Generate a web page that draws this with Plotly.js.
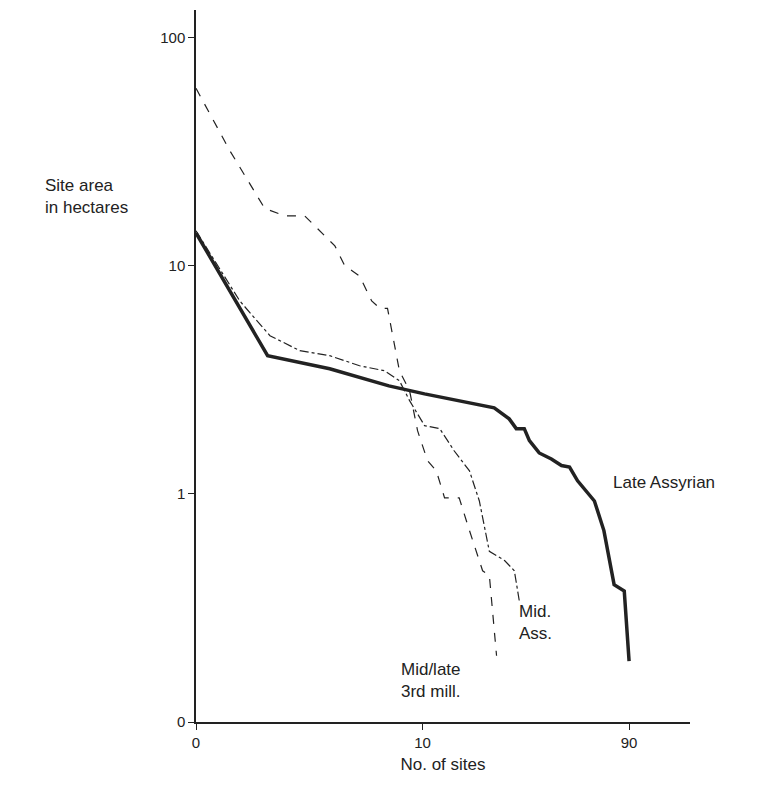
<html><head><script src="https://cdn.plot.ly/plotly-3.0.1.min.js"></script></head><body style="margin:0">
<div id="c" style="width:782px;height:799px"></div>
<script>
const lateX=[1,2.07,3.89,7.1,10.2,20.7,24.1,25.9,28.1,29.6,32.7,37,41,44.5,48.3,57.3,63.1,70,77.6,81.5];
const lateY=[13.9,4.03,3.53,2.97,2.74,2.38,2.13,1.93,1.93,1.71,1.51,1.42,1.33,1.31,1.14,0.93,0.69,0.40,0.375,0.185];
const midlateX=[1,1.41,2.01,2.47,3.02,4.1,4.53,5.27,5.96,6.47,7.0,7.9,8.76,9.5,10.5,11.5,12.5,14.5,16.1,18.4,19.7,21.2];
const midlateY=[59.8,31.9,17.8,16.5,16.5,12.2,10,9.0,7.0,6.5,6.5,3.46,2.83,1.89,1.40,1.26,0.96,0.96,0.69,0.46,0.44,0.195];
const midAssX=[1,1.56,2.12,2.87,3.89,5.27,6.8,7.9,8.76,10.2,11.9,13.8,16.1,17.8,19.7,23,25.4,26.7];
const midAssY=[14.2,7.0,4.93,4.24,4.03,3.64,3.46,3.13,2.56,1.99,1.93,1.54,1.26,0.93,0.56,0.51,0.46,0.34];
const xTickVals=[1,10,81.5], xTickText=['0','10','90'];
const yTickVals=[0.1,1,10,100], yTickText=['0','1','10','100'];
const ink='#222';
Plotly.newPlot('c',[
 {x:lateX,y:lateY,mode:'lines',line:{color:ink,width:3.5}},
 {x:midlateX,y:midlateY,mode:'lines',line:{color:ink,width:1.2,dash:'dash'}},
 {x:midAssX,y:midAssY,mode:'lines',line:{color:ink,width:1.2,dash:'dashdot'}}
],{
 width:782,height:799,showlegend:false,paper_bgcolor:'#fff',plot_bgcolor:'#fff',
 margin:{l:196,r:92,t:10,b:77},
 font:{family:'Liberation Sans, Arial',size:15,color:ink},
 xaxis:{type:'log',range:[0,2.18],showgrid:false,zeroline:false,showline:true,linecolor:ink,linewidth:1.5,ticks:'outside',ticklen:6,tickcolor:ink,tickvals:xTickVals,ticktext:xTickText,
  title:{text:'No. of sites',font:{size:17},standoff:8}},
 yaxis:{type:'log',range:[-1,2.12],showgrid:false,zeroline:false,showline:true,linecolor:ink,linewidth:1.5,ticks:'outside',ticklen:6,tickcolor:ink,tickvals:yTickVals,ticktext:yTickText},
 annotations:[
  {xref:'paper',yref:'paper',x:-0.31,y:0.77,xanchor:'left',text:'Site area<br>in hectares',showarrow:false,align:'left',font:{size:17}},
  {xref:'paper',yref:'paper',x:0.84,y:0.32,xanchor:'left',text:'Late Assyrian',showarrow:false,font:{size:17}},
  {xref:'paper',yref:'paper',x:0.65,y:0.108,xanchor:'left',text:'Mid.<br>Ass.',showarrow:false,align:'left',font:{size:17}},
  {xref:'paper',yref:'paper',x:0.41,y:0.027,xanchor:'left',text:'Mid/late<br>3rd mill.',showarrow:false,align:'left',font:{size:17}}
 ]
},{displayModeBar:false});
</script></body></html>
